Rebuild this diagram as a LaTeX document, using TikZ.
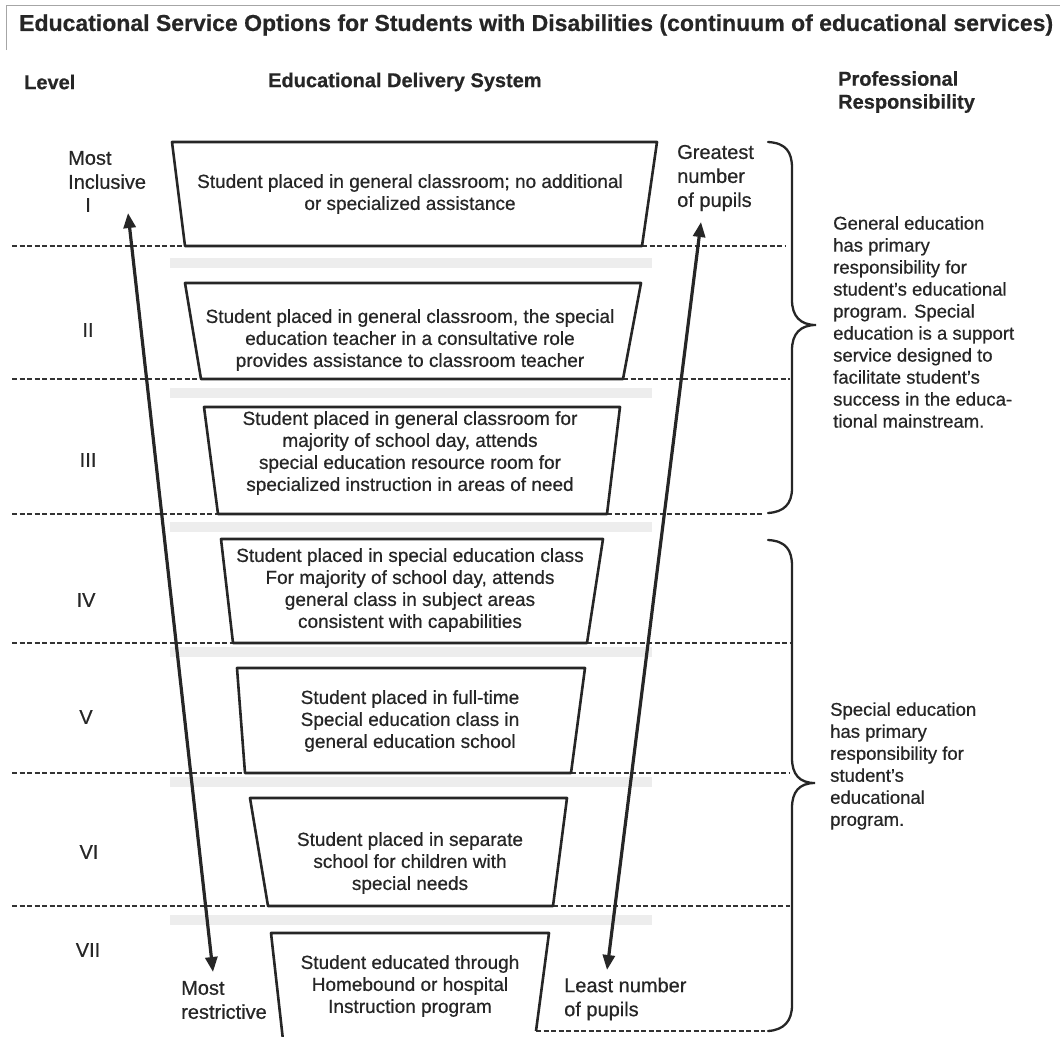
\documentclass[tikz,border=0pt]{standalone}
\usepackage{fontspec}
\setmainfont[FakeBold=0.6]{Liberation Sans}
\usetikzlibrary{arrows.meta}

\begin{document}
\begin{tikzpicture}[x=1pt,y=-1pt]
	\tikzstyle{box}=[draw=black!85,line width=2.6pt,line join=round]
	\tikzstyle{divider}=[black!80,line width=2.1pt,dash pattern=on 5pt off 2.5pt]
	\tikzstyle{ghost band}=[fill=black!7,draw=none]
	\tikzstyle{resp brace}=[black!85,line width=2.3pt,line cap=round]
	\tikzstyle{scale arrow}=[black!85,line width=3.2pt,{Triangle[length=15pt,width=12pt]}-{Triangle[length=15pt,width=12pt]}]
	\tikzstyle{box text}=[inner sep=0pt,align=center,text=black!85,font=\fontsize{19}{22}\selectfont]
	\tikzstyle{side label}=[inner sep=0pt,align=left,text=black!85,font=\fontsize{20}{24}\selectfont]
	\tikzstyle{level label}=[inner sep=0pt,text=black!85,font=\fontsize{20}{24}\selectfont]
	\tikzstyle{header}=[inner sep=0pt,anchor=west,align=left,text=black!85,font=\bfseries\fontsize{20}{23}\selectfont]
	\tikzstyle{resp text}=[inner sep=0pt,anchor=west,align=left,text=black!85,font=\fontsize{18.5}{22}\selectfont]

	\useasboundingbox (0,0) rectangle (1062,1036);

	% title
	\draw[black!35,line width=0.8pt] (6,50) -- (6,5) -- (1060,5);
	\node[inner sep=0pt,anchor=west,text=black!85,font=\bfseries\fontsize{23}{26}\selectfont] (title) at (19,25)
		{Educational Service Options for Students with Disabilities (continuum of educational services)};

	% column headers
	\node[header] (level head) at (24,82) {Level};
	\node[header] (system head) at (268,82) {Educational Delivery System};
	\node[header] (resp head) at (838,92) {Professional\\Responsibility};

	% faint show-through bands
	\foreach \y in {263,393,527,652,782,920}
		\fill[ghost band] (170,\y-5) rectangle (652,\y+5);

	% dashed level dividers
	\foreach \y/\bl/\br/\re in {246/185/642/786,379/201/623/790,514/218/607/763,643/233/587/790,773/245/571/790,906/268/553/790}{
		\draw[divider] (12,\y) -- (\bl,\y);
		\draw[divider] (\br,\y) -- (\re,\y);
	}
	\draw[divider] (536,1031) -- (765,1031);

	% funnel of service boxes
	\foreach \ty/\by/\tl/\tr/\bl/\br in {142/246/172/657/185/642,283/379/185/641/201/623,407/514/204/620/218/607,539/643/221/603/233/587,668/773/237/585/245/571,798/906/250/567/268/553}
		\draw[box] (\bl,\by) -- (\tl,\ty) -- (\tr,\ty) -- (\br,\by) -- cycle;
	\draw[box] (283,1040) -- (271,933) -- (549,933) -- (536,1031);

	\node[box text] (lvl1) at (410,194) {Student placed in general classroom; no additional\\or specialized assistance};
	\node[box text] (lvl2) at (410,340) {Student placed in general classroom, the special\\education teacher in a consultative role\\provides assistance to classroom teacher};
	\node[box text] (lvl3) at (410,453) {Student placed in general classroom for\\majority of school day, attends\\special education resource room for\\specialized instruction in areas of need};
	\node[box text] (lvl4) at (410,590) {Student placed in special education class\\For majority of school day, attends\\general class in subject areas\\consistent with capabilities};
	\node[box text] (lvl5) at (410,721) {Student placed in full-time\\Special education class in\\general education school};
	\node[box text] (lvl6) at (410,863) {Student placed in separate\\school for children with\\special needs};
	\node[box text] (lvl7) at (410,986) {Student educated through\\Homebound or hospital\\Instruction program};

	% level numbers
	\node[level label] (n1) at (88,205) {I};
	\node[level label] (n2) at (88,330) {II};
	\node[level label] (n3) at (88,460) {III};
	\node[level label] (n4) at (86,600) {IV};
	\node[level label] (n5) at (86,717) {V};
	\node[level label] (n6) at (89,852) {VI};
	\node[level label] (n7) at (88,950) {VII};

	% end labels of the two scales
	\node[side label,anchor=west] (most inc) at (68,170) {Most\\Inclusive};
	\node[side label,anchor=west] (most res) at (181,1000) {Most\\restrictive};
	\node[side label,anchor=west] (greatest) at (677,178) {Greatest\\number\\of pupils};
	\node[side label,anchor=west] (least) at (564,999) {Least number\\of pupils};

	\coordinate (inc tip) at (128,213);
	\coordinate (res tip) at (213,972);
	\coordinate (great tip) at (701,222);
	\coordinate (least tip) at (607,970);
	\draw[scale arrow] (inc tip) -- (res tip);
	\draw[scale arrow] (great tip) -- (least tip);

	% responsibility braces
	\draw[resp brace] (768,142) .. controls (786,143) and (792,152) .. (792,168) -- (792,300)
		.. controls (792,316) and (800,325) .. (816,325) .. controls (800,325) and (792,334) .. (792,350)
		-- (792,488) .. controls (792,504) and (784,512) .. (768,513);
	\draw[resp brace] (768,540) .. controls (786,541) and (792,550) .. (792,566) -- (792,758)
		.. controls (792,774) and (799,783) .. (815,783) .. controls (799,783) and (792,792) .. (792,808)
		-- (792,1005) .. controls (792,1021) and (784,1030) .. (768,1031);

	\node[resp text] (gen resp) at (833,322) {General education\\has primary\\responsibility for\\student's educational\\program.  Special\\education is a support\\service designed to\\facilitate student's\\success in the educa-\\tional mainstream.};
	\node[resp text] (spec resp) at (830,766) {Special education\\has primary\\responsibility for\\student's\\educational\\program.};
\end{tikzpicture}
\end{document}
